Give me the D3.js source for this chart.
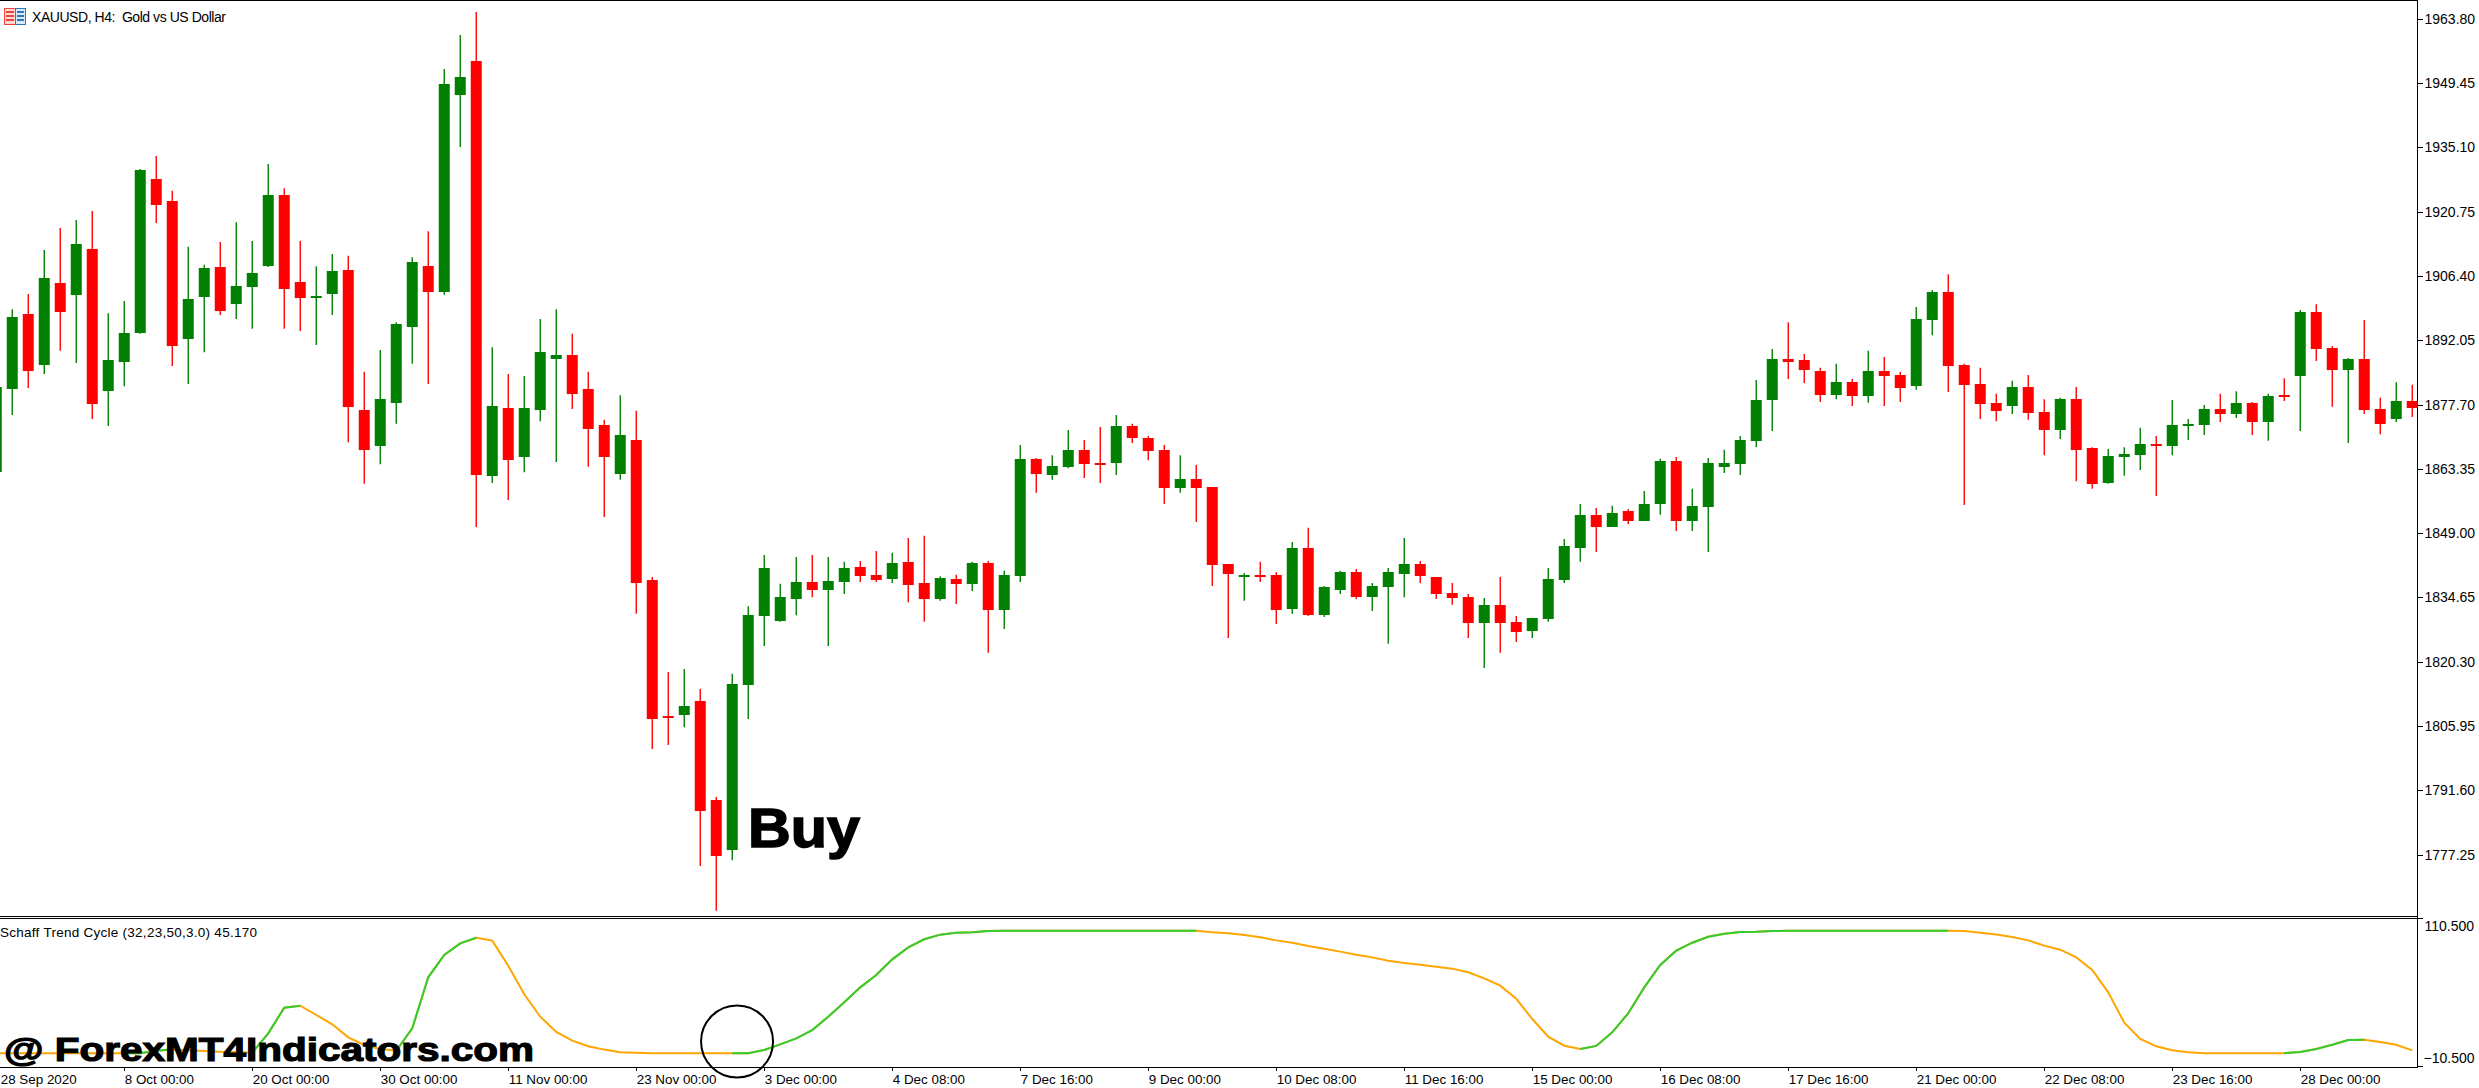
<!DOCTYPE html>
<html lang="en">
<head>
<meta charset="utf-8">
<title>XAUUSD H4 with Schaff Trend Cycle</title>
<script src="https://cdn.jsdelivr.net/npm/d3@7"></script>
<style>
html, body { margin: 0; padding: 0; background: #fff; }
svg { display: block; }
text { font-family: "Liberation Sans", Arial, sans-serif; fill: #000; }
</style>
</head>
<body>
<script>
// candles, left to right
var highs = [
1881.7,1899.0,1902.4,1912.2,1917.1,1918.9,1920.9,1898.1,1900.8,1930.3,
1933.2,1925.4,1912.9,1908.9,1914.0,1918.4,1914.2,1931.4,1926.0,1914.2,
1908.6,1911.3,1910.9,1885.0,1889.9,1896.1,1910.6,1916.4,1952.6,1960.2,
1965.3,1890.5,1884.5,1884.1,1896.8,1899.0,1893.5,1885.0,1874.3,1879.8,
1876.3,1839.2,1818.0,1818.7,1814.2,1790.1,1817.6,1832.7,1844.1,1837.7,
1843.7,1844.1,1843.7,1842.6,1842.8,1845.0,1844.6,1847.9,1848.4,1839.4,
1839.7,1842.6,1842.8,1840.6,1868.7,1865.8,1866.4,1872.0,1869.8,1872.7,
1875.4,1873.4,1870.7,1868.7,1866.4,1864.2,1859.3,1842.1,1840.1,1842.6,
1840.3,1847.0,1850.2,1837.2,1840.6,1841.0,1837.9,1841.2,1847.9,1842.8,
1839.2,1837.9,1835.4,1834.5,1839.2,1830.5,1830.1,1841.2,1847.7,1855.5,
1854.6,1855.1,1854.4,1858.4,1865.6,1866.0,1858.9,1865.8,1867.6,1870.7,
1883.2,1890.1,1896.1,1889.0,1885.9,1886.8,1883.4,1889.7,1888.3,1885.0,
1899.5,1903.3,1906.8,1886.8,1885.9,1880.1,1883.0,1884.3,1878.9,1879.2,
1881.6,1868.2,1867.8,1868.2,1872.5,1870.7,1878.7,1874.5,1877.6,1880.1,
1880.7,1878.3,1880.1,1883.6,1898.8,1900.1,1890.8,1888.1,1896.6,1879.2,
1882.7,1882.1];
var lows = [
1862.7,1875.4,1881.4,1884.5,1889.7,1887.0,1874.5,1872.9,1881.8,1893.5,
1918.2,1886.3,1882.3,1889.4,1897.7,1896.8,1894.6,1908.4,1894.6,1894.1,
1891.0,1897.7,1869.3,1860.0,1864.4,1873.4,1886.8,1882.3,1902.2,1935.2,
1850.4,1860.2,1856.4,1862.6,1874.0,1864.9,1876.7,1863.8,1852.6,1860.9,
1831.0,1800.8,1801.7,1805.7,1774.7,1764.7,1776.0,1807.5,1823.8,1829.2,
1830.7,1834.7,1823.8,1835.4,1838.1,1838.1,1837.9,1833.6,1829.2,1833.9,
1833.2,1836.1,1822.3,1827.6,1838.1,1858.0,1860.9,1863.5,1861.3,1860.2,
1862.0,1869.1,1865.3,1855.5,1858.0,1851.5,1837.2,1825.6,1833.9,1838.1,
1828.7,1831.0,1830.5,1830.3,1835.4,1834.3,1831.6,1824.3,1834.7,1837.9,
1834.3,1833.0,1825.6,1818.9,1822.3,1824.7,1825.6,1829.2,1837.9,1842.6,
1844.8,1850.4,1851.0,1851.7,1853.1,1849.5,1849.5,1844.8,1862.4,1862.0,
1868.2,1871.8,1883.4,1882.5,1878.3,1878.9,1877.4,1878.1,1877.4,1878.3,
1881.0,1893.2,1880.5,1855.3,1874.5,1874.0,1875.6,1874.3,1866.4,1870.0,
1860.6,1858.9,1860.0,1861.8,1863.1,1857.3,1866.4,1869.8,1870.9,1873.8,
1874.7,1870.9,1869.6,1878.5,1871.8,1887.4,1877.2,1869.1,1875.6,1871.1,
1873.8,1874.9];
var opens = [
1862.7,1881.2,1897.9,1886.5,1904.8,1902.2,1912.4,1880.7,1887.2,1893.7,
1928.0,1923.1,1892.3,1901.7,1908.4,1900.1,1903.9,1908.6,1924.5,1905.1,
1901.5,1902.4,1907.7,1876.5,1868.5,1878.1,1895.0,1908.6,1902.8,1946.8,
1954.4,1861.8,1876.9,1866.0,1876.5,1887.9,1888.8,1881.2,1873.1,1862.2,
1869.8,1838.5,1808.2,1808.4,1811.5,1789.4,1778.3,1815.1,1830.5,1829.4,
1834.3,1838.1,1836.3,1838.1,1841.4,1839.7,1838.8,1842.6,1837.9,1834.3,
1838.8,1837.7,1842.3,1831.8,1839.4,1865.6,1862.0,1863.8,1867.6,1864.7,
1864.7,1872.9,1870.2,1867.6,1859.1,1861.1,1859.3,1842.1,1839.2,1839.7,
1839.7,1832.1,1845.7,1830.7,1836.3,1840.3,1834.7,1837.0,1839.9,1842.1,
1839.2,1835.6,1834.7,1828.9,1833.0,1829.2,1827.2,1829.8,1838.5,1845.7,
1853.1,1850.4,1853.9,1851.7,1855.5,1865.1,1851.7,1854.8,1863.8,1864.4,
1869.6,1878.7,1887.9,1887.6,1885.2,1879.8,1882.7,1879.6,1885.2,1884.3,
1881.8,1896.6,1902.8,1886.5,1882.3,1878.0,1877.4,1881.6,1876.0,1872.0,
1878.9,1868.0,1860.2,1866.0,1866.4,1868.9,1868.5,1872.9,1873.1,1876.7,
1875.6,1878.0,1873.8,1879.8,1884.1,1898.4,1890.3,1885.4,1887.9,1876.7,
1874.5,1878.5];
var closes = [
1881.7,1897.2,1885.2,1906.0,1898.4,1913.5,1877.8,1887.6,1893.7,1930.1,
1922.2,1890.8,1901.3,1908.2,1898.6,1904.2,1907.1,1924.5,1903.5,1901.5,
1901.9,1907.5,1877.2,1867.6,1878.9,1895.7,1909.5,1902.8,1949.3,1950.8,
1862.0,1877.4,1865.3,1876.9,1889.4,1888.8,1880.1,1872.2,1866.0,1870.9,
1837.9,1807.5,1808.0,1810.4,1787.0,1776.9,1815.3,1830.7,1841.2,1834.7,
1838.1,1836.3,1838.3,1841.2,1839.4,1838.5,1842.3,1837.4,1834.3,1839.0,
1837.7,1842.3,1831.8,1839.7,1865.6,1862.2,1864.0,1867.6,1864.4,1864.5,
1872.9,1870.2,1867.3,1859.1,1861.1,1859.1,1841.9,1839.9,1839.7,1839.4,
1831.8,1845.7,1830.7,1837.0,1840.3,1834.7,1837.2,1840.3,1842.1,1839.4,
1835.4,1834.5,1828.9,1833.0,1828.9,1826.9,1830.1,1838.8,1846.1,1853.1,
1850.4,1853.5,1851.7,1855.5,1865.1,1851.7,1855.1,1864.7,1864.7,1869.8,
1878.7,1887.9,1887.2,1885.4,1879.8,1882.7,1879.6,1885.2,1884.1,1881.4,
1896.8,1902.8,1886.3,1882.1,1877.8,1876.3,1881.6,1875.8,1872.0,1878.9,
1867.6,1860.0,1866.2,1866.7,1868.9,1868.5,1873.1,1873.4,1876.7,1875.6,
1878.0,1873.8,1879.6,1879.4,1898.4,1890.1,1885.4,1887.9,1876.5,1873.4,
1878.5,1876.9];

// Schaff Trend Cycle, one value per candle
var stc = [
0,0,0,0,0,0,0,0,0,0,
2.0,2.9,2.3,1.8,1.2,1.0,0.4,16.2,37.2,38.8,
31.2,23.6,12.9,6.7,3.4,2.0,20.3,62.0,80.3,89.8,
94.4,92.0,71.5,48.1,29.8,17.3,10.2,5.6,2.9,0.7,
0.4,0,0,0,0,0,0,0,2.6,7.2,
12.1,18.9,29.8,41.6,53.8,63.9,76.7,86.5,93.1,96.9,
98.5,98.8,99.9,100,100,100,100,100,100,100,
100,100,100,100,100,100,98.8,98.0,96.6,94.7,
92.2,90.3,87.6,85.4,83.0,80.5,78.3,75.6,73.7,72.3,
70.7,69.1,66.1,61.2,55.2,44.6,27.9,13.5,6.1,3.4,
5.9,17.0,32.6,53.8,72.1,83.8,90.3,95.2,97.7,99.1,
99.3,99.9,100,100,100,100,100,100,100,100,
100,100,100,99.9,98.5,97.1,95.0,92.2,87.9,84.6,
78.3,68.0,49.7,24.9,11.6,5.6,2.3,0.7,0,0,
0,0,0,0,1.0,3.4,6.9,10.8,11.0,9.1,
6.9,2.3];
// candle index ranges where the line is green, orange elsewhere
var stcRising = [[8,11],[16,19],[25,30],[46,75],[99,122],[143,148]];

var priceTicks = [1963.80,1949.45,1935.10,1920.75,1906.40,1892.05,1877.70,1863.35,1849.00,1834.65,1820.30,1805.95,1791.60,1777.25];
var stcTicks = [110.5,-10.5];
var timeLabels = ["28 Sep 2020","8 Oct 00:00","20 Oct 00:00","30 Oct 00:00","11 Nov 00:00","23 Nov 00:00","3 Dec 00:00","4 Dec 08:00","7 Dec 16:00","9 Dec 00:00","10 Dec 08:00","11 Dec 16:00","15 Dec 00:00","16 Dec 08:00","17 Dec 16:00","21 Dec 00:00","22 Dec 08:00","23 Dec 16:00","28 Dec 00:00"];
var timeStep = 8;

var w = 2479, h = 1088;
var axisX = 2417.5, mainBottom = 916.5, stcTop = 918.5, stcBottom = 1066.5;
var bodyW = 11;

var svg = d3.select("body").append("svg").attr("width", w).attr("height", h);

var x = d3.scaleLinear().domain([0, 151]).range([-3.75, 2412.25]);
var y = d3.scaleLinear().domain([1968, 1763.55]).range([0, 916]);
var yStc = d3.scaleLinear().domain([110.5, -10.5]).range([918, 1066]);

// frame
var frame = [[0, 0.5, axisX, 0.5], [0, mainBottom, axisX, mainBottom], [0, stcTop, axisX, stcTop],
	[0, stcBottom + 0.5, axisX, stcBottom + 0.5], [axisX, 0, axisX, stcBottom + 1]];
svg.selectAll("line.frame").data(frame).enter().append("line").attr("class", "frame")
	.attr("x1", d => d[0]).attr("y1", d => d[1]).attr("x2", d => d[2]).attr("y2", d => d[3])
	.attr("stroke", "#000").attr("stroke-width", 1).attr("shape-rendering", "crispEdges");

// candles
var idx = d3.range(opens.length);
var color = i => closes[i] >= opens[i] ? "#008000" : "#ff0000";

svg.append("g").selectAll("line").data(idx).enter().append("line")
	.attr("x1", i => x(i)).attr("x2", i => x(i))
	.attr("y1", i => y(highs[i])).attr("y2", i => y(lows[i]))
	.attr("stroke", color).attr("stroke-width", 1.4);

svg.append("g").selectAll("rect").data(idx).enter().append("rect")
	.attr("x", i => x(i) - bodyW / 2)
	.attr("width", bodyW)
	.attr("y", i => Math.round(y(Math.max(opens[i], closes[i]))))
	.attr("height", i => Math.max(2, Math.round(Math.abs(y(opens[i]) - y(closes[i])))))
	.attr("fill", color);

// indicator line
var stcLine = d3.line().x(i => x(i)).y(i => yStc(stc[i]));
svg.append("path").attr("d", stcLine(idx))
	.attr("fill", "none").attr("stroke", "#ffa500").attr("stroke-width", 2);
stcRising.forEach(function(r) {
	svg.append("path").attr("d", stcLine(d3.range(r[0], r[1] + 1)))
		.attr("fill", "none").attr("stroke", "#32cd32").attr("stroke-width", 2);
});

// axes
var fontPrice = 14, fontTime = 13.4;
var priceAxis = d3.axisRight(y).tickValues(priceTicks).tickFormat(d3.format(".2f")).tickSize(5).tickPadding(2);
svg.append("g").attr("transform", "translate(" + axisX + ",0)").call(priceAxis)
	.call(g => g.select(".domain").remove())
	.call(g => g.selectAll("text").style("font-size", fontPrice + "px"));

var stcAxis = d3.axisRight(yStc).tickValues(stcTicks).tickFormat(d3.format(".3f")).tickSize(5).tickPadding(2);
var stcAxisG = svg.append("g").attr("transform", "translate(" + axisX + ",0)").call(stcAxis)
	.call(g => g.select(".domain").remove())
	.call(g => g.selectAll("text").style("font-size", fontPrice + "px"));
// the two labels sit inside the ticks, as in the terminal
stcAxisG.selectAll("text")
	.attr("transform", d => d > 0 ? "translate(0,8)" : "translate(-1,-7.5)");

var timeAxis = d3.axisBottom(x).tickValues(timeLabels.map((d, i) => i * timeStep))
	.tickFormat(d => timeLabels[d / timeStep]).tickSize(4).tickPadding(3);
svg.append("g").attr("transform", "translate(0," + (stcBottom + 0.5) + ")").call(timeAxis)
	.call(g => g.select(".domain").remove())
	.call(g => g.selectAll("text").attr("text-anchor", "start").style("font-size", fontTime + "px"))
	// first label would start left of the picture
	.call(g => g.select(".tick text").attr("dx", 4));
svg.selectAll(".tick line").attr("stroke", "#000").attr("stroke-width", 1).attr("shape-rendering", "crispEdges");
svg.selectAll(".tick text").attr("fill", "#000");

// titles
svg.append("text").attr("x", 32).attr("y", 22).style("font-size", "14px").attr("textLength", 194)
	.attr("xml:space", "preserve").text("XAUUSD, H4:  Gold vs US Dollar");
svg.append("text").attr("x", 0).attr("y", 937).style("font-size", "13.5px").attr("textLength", 257)
	.text("Schaff Trend Cycle (32,23,50,3.0) 45.170");

// chart icon
var icon = svg.append("g").attr("transform", "translate(4,8)");
icon.append("rect").attr("x", 0.5).attr("y", 0.5).attr("width", 11).attr("height", 16).attr("fill", "#ffd9d0").attr("stroke", "#e8453c");
icon.append("rect").attr("x", 11.5).attr("y", 0.5).attr("width", 10).attr("height", 16).attr("fill", "#d8e8f8").attr("stroke", "#2a7ab8");
[4, 8, 12].forEach(function(t) {
	icon.append("line").attr("x1", 2).attr("x2", 10).attr("y1", t).attr("y2", t).attr("stroke", "#e8453c").attr("stroke-width", 2);
	icon.append("line").attr("x1", 13).attr("x2", 20).attr("y1", t).attr("y2", t).attr("stroke", "#2a7ab8").attr("stroke-width", 2);
});

// annotations
svg.append("text").attr("x", x(46.98)).attr("y", y(1779))
	.style("font-size", "55px").style("font-weight", "bold")
	.attr("stroke", "#000").attr("stroke-width", 1.5)
	.attr("textLength", 112).attr("lengthAdjust", "spacingAndGlyphs").text("Buy");

svg.append("circle").attr("cx", x(46.3)).attr("cy", yStc(9.5)).attr("r", 36)
	.attr("fill", "none").attr("stroke", "#000").attr("stroke-width", 2);

svg.append("text").attr("x", 4).attr("y", 1060.5)
	.style("font-size", "34px").style("font-weight", "bold")
	.attr("stroke", "#000").attr("stroke-width", 1.2)
	.attr("textLength", 530).attr("lengthAdjust", "spacingAndGlyphs").text("@ ForexMT4Indicators.com");
</script>
</body>
</html>
